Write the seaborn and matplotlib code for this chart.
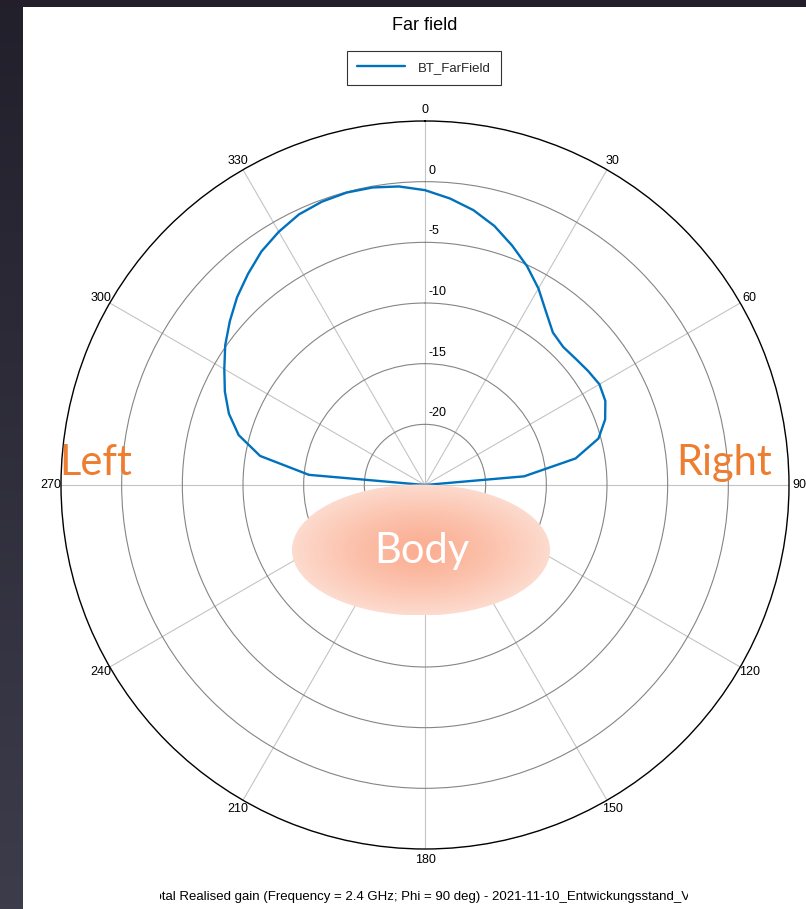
import numpy as np
import pandas as pd
import matplotlib
matplotlib.use("Agg")
import matplotlib.pyplot as plt
import seaborn as sns
from matplotlib.patches import Ellipse, Rectangle
from matplotlib.transforms import Bbox, offset_copy

# ---------------- data ----------------
theta_deg = [-90, -85, -80, -75, -70, -65, -60, -55, -50, -45, -40, -35, -30, -25,
             -20, -15, -10, -5, 0, 5, 10, 15, 20, 25, 30, 35, 40, 45, 50, 55, 60,
             65, 70, 75, 80, 85, 90]
gain_db = [-25.0, -15.4, -11.2, -9.1, -7.8, -6.8, -5.9, -4.9, -4.0, -3.1, -2.3, -1.5,
           -0.9, -0.4, -0.15, -0.05, -0.1, -0.3, -0.7, -1.3, -2.0, -2.9, -4.0, -5.1,
           -6.3, -7.6, -8.6, -8.9, -8.8, -8.6, -8.4, -8.6, -9.2, -10.2, -12.4, -16.8, -25.0]
series_name = "BT_FarField"
angle_ticks = list(range(0, 360, 30))
angle_labels = [str(a) for a in angle_ticks]
r_ticks = [-20, -15, -10, -5, 0]
r_labels = ["-20", "-15", "-10", "-5", "0"]
r_min, r_max = -25, 5
title_text = "Far field"
footer_text = "Total Realised gain (Frequency = 2.4 GHz; Phi = 90 deg) - 2021-11-10_Entwickungsstand_V1.0"

# ---------------- style ----------------
sns.set_theme(style="white")
plt.rcParams["font.family"] = ["Liberation Sans", "DejaVu Sans"]

W, H = 806, 909
fig = plt.figure(figsize=(W / 100, H / 100), dpi=100)
fig.patch.set_facecolor("white")

# dark window borders
fig.patches.append(Rectangle((0, 1 - 7 / H), 1, 7 / H, transform=fig.transFigure,
                             facecolor="#221f2b", edgecolor="none", zorder=0))
strip = fig.add_axes([0, 0, 23 / W, 1 - 7 / H])
grad = np.linspace(0, 1, 256)[:, None]
c0 = np.array([0x22, 0x20, 0x2b]) / 255
c1 = np.array([0x3d, 0x3c, 0x4b]) / 255
img = c0[None, None, :] * (1 - grad[:, :, None]) + c1[None, None, :] * grad[:, :, None]
strip.imshow(img, aspect="auto", extent=(0, 1, 1, 0))
strip.set_axis_off()

# ---------------- polar axes ----------------
cx, cy, R = 425, 485, 364
ax = fig.add_axes([(cx - R) / W, (H - cy - R) / H, 2 * R / W, 2 * R / H], projection="polar")
ax.set_facecolor("none")
ax.set_theta_zero_location("N")
ax.set_theta_direction(-1)

df = pd.DataFrame({"theta": np.deg2rad(theta_deg), "gain": gain_db})
sns.lineplot(data=df, x="theta", y="gain", ax=ax, sort=False, color="#0072BD",
             linewidth=1.7, label=series_name, estimator=None)
handles, labels = ax.get_legend_handles_labels()
if ax.get_legend() is not None:
    ax.get_legend().remove()

ax.set_rlim(r_min, r_max)
ax.set_yticks(r_ticks)
ax.set_yticklabels([])
ax.set_xticks(np.deg2rad(angle_ticks))
ax.set_xticklabels(angle_labels)
ax.tick_params(axis="x", pad=0.6, length=0, labelsize=9, colors="black")
ax.set_xlabel("")
ax.set_ylabel("")
ax.xaxis.grid(True, color="#c4c4c4", linewidth=0.8)
ax.yaxis.grid(True, color="#858585", linewidth=0.8)
ax.spines["polar"].set_color("black")
ax.spines["polar"].set_linewidth(1.0)

lab_tr = offset_copy(ax.transData, fig=fig, x=2.5, y=8.0, units="points")
for rv, rl in zip(r_ticks, r_labels):
    ax.text(0, rv, rl, transform=lab_tr, ha="left", va="center", fontsize=9, color="black")

# ---------------- title, legend, footer ----------------
fig.text(425 / W, 1 - 26 / H, title_text, ha="center", va="center", fontsize=13, color="black")
leg = fig.legend(handles, labels, loc="center", bbox_to_anchor=(424 / W, 1 - 68 / H),
                 fontsize=9.5, frameon=True, fancybox=False, handlelength=3.6,
                 handletextpad=1.0, borderpad=0.8, edgecolor="black")
leg.get_frame().set_linewidth(0.8)

ft = fig.text(148 / W, 1 - 897 / H, footer_text, ha="left", va="center", fontsize=9.5, color="black")
ft.set_clip_box(Bbox.from_extents(160, 0, 688, H))
ft.set_clip_on(True)

# ---------------- annotation overlay ----------------
ov = fig.add_axes([0, 0, 1, 1], zorder=5)
ov.set_axis_off()
ov.patch.set_alpha(0)

ecx, ecy, ew, eh = 421, 550, 258, 131
ell = Ellipse((ecx, ecy), ew, eh, facecolor="none", edgecolor="none")
ov.add_patch(ell)
xx, yy = np.meshgrid(np.linspace(-1, 1, 300), np.linspace(-1, 1, 160))
d = np.clip(np.sqrt(xx ** 2 + yy ** 2), 0, 1)
cin = np.array([251, 174, 146]) / 255
cout = np.array([253, 219, 206]) / 255
t = d[:, :, None] ** 1.3
eimg = cin * (1 - t) + cout * t
im = ov.imshow(eimg, extent=(ecx - ew / 2, ecx + ew / 2, ecy + eh / 2, ecy - eh / 2),
               aspect="auto", interpolation="bilinear")
im.set_clip_path(ell)
ov.set_xlim(0, W)
ov.set_ylim(H, 0)

big = dict(family=["Lato", "DejaVu Sans"], fontsize=30)
ov.text(59, 475, "Left", color="#ED7D31", ha="left", va="baseline", **big)
ov.text(676, 475, "Right", color="#ED7D31", ha="left", va="baseline", **big)
ov.text(422, 563, "Body", color="white", ha="center", va="baseline", **big)

fig.savefig("out.png", dpi=100)
